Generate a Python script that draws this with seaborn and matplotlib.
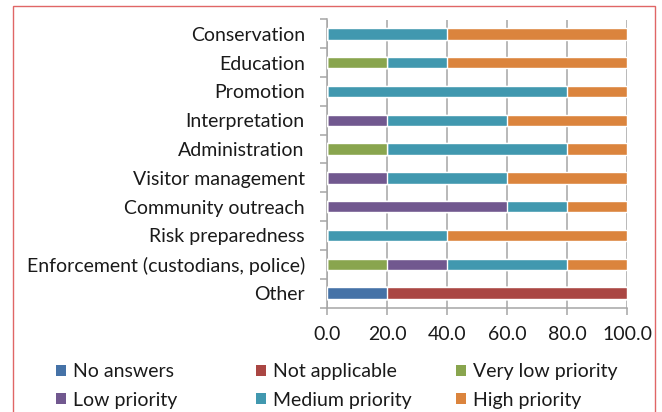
import numpy as np
import pandas as pd
import matplotlib
matplotlib.use("Agg")
from matplotlib import pyplot as plt
from matplotlib.patches import Patch, Rectangle
import seaborn as sns

categories = ["Conservation", "Education", "Promotion", "Interpretation",
              "Administration", "Visitor management", "Community outreach",
              "Risk preparedness", "Enforcement (custodians, police)", "Other"]
series = ["No answers", "Not applicable", "Very low priority",
          "Low priority", "Medium priority", "High priority"]
colors = ["#4572a7", "#aa4643", "#89a54e", "#71588f", "#4198af", "#db843d"]

no_answers     = [0, 0, 0, 0, 0, 0, 0, 0, 0, 20]
not_applicable = [0, 0, 0, 0, 0, 0, 0, 0, 0, 80]
very_low       = [0, 20, 0, 0, 20, 0, 0, 0, 20, 0]
low            = [0, 0, 0, 20, 0, 20, 60, 0, 20, 0]
medium         = [40, 20, 80, 40, 60, 40, 20, 40, 40, 0]
high           = [60, 60, 20, 40, 20, 40, 20, 60, 20, 0]

values = [no_answers, not_applicable, very_low, low, medium, high]
cum = np.cumsum(np.array(values), axis=0)

sns.set_style("white")
plt.rcParams["font.family"] = ["Lato", "DejaVu Sans"]
fs = 14

fig = plt.figure(figsize=(6.62, 4.12), dpi=100)
ax = fig.add_axes([327 / 662, 1 - 307.5 / 412, 300 / 662, 288 / 412])

# draw cumulative totals from the largest down so each segment shows
for i in range(len(series) - 1, -1, -1):
    df = pd.DataFrame({"category": categories, "value": cum[i]})
    sns.barplot(data=df, x="value", y="category", order=categories,
                orient="h", color=colors[i], width=0.4, errorbar=None,
                saturation=1, ax=ax, zorder=3)

ax.set_xlim(0, 100)
ax.set_ylim(9.5, -0.5)
ax.set_xticks(np.arange(0, 101, 20))
ax.set_xticklabels([f"{v:.1f}" for v in np.arange(0, 101, 20)], fontsize=fs,
                   color="#1a1a1a")
ax.set_yticks(range(len(categories)))
ax.set_yticklabels(categories, fontsize=fs, color="#1a1a1a")
ax.set_yticks(np.arange(-0.5, 10, 1), minor=True)
ax.set_xlabel("")
ax.set_ylabel("")

ax.xaxis.grid(True, color="#a6a6a6", lw=1.1, zorder=0)
ax.set_axisbelow(True)
for s in ["top", "right"]:
    ax.spines[s].set_visible(False)
for s in ["left", "bottom"]:
    ax.spines[s].set_color("#a6a6a6")
    ax.spines[s].set_linewidth(1.1)
ax.tick_params(axis="y", which="major", length=0, pad=16)
ax.tick_params(axis="y", which="minor", length=5, width=1.1, color="#a6a6a6",
               direction="out", left=True)
ax.tick_params(axis="x", length=5, width=1.1, color="#a6a6a6",
               direction="out", bottom=True, pad=8)

# legend as three columns
col_x = [56 / 662, 256 / 662, 456 / 662]
for c in range(3):
    idx = [c, c + 3]
    handles = [Patch(facecolor=colors[k], edgecolor="none") for k in idx]
    labels = [series[k] for k in idx]
    fig.legend(handles, labels, loc="upper left",
               bbox_to_anchor=(col_x[c], 1 - 363 / 412), frameon=False,
               fontsize=fs, handlelength=0.5, handleheight=0.5,
               handletextpad=0.35, labelspacing=0.6, borderpad=0,
               borderaxespad=0, labelcolor="#1a1a1a")

fig.add_artist(Rectangle((13 / 662, -0.1), (655 - 13) / 662, 1 - 6 / 412 + 0.1,
                         transform=fig.transFigure, fill=False,
                         edgecolor="#e06666", lw=1.0))

fig.savefig("out.png", dpi=100)
